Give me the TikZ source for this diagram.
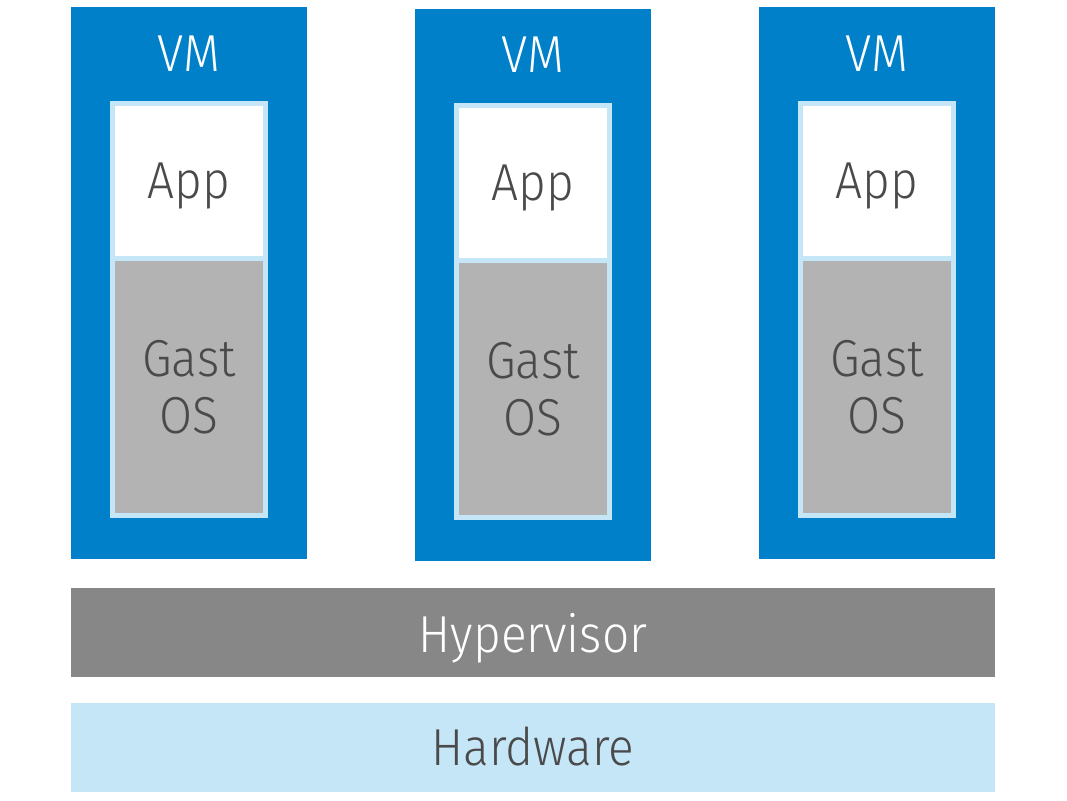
\documentclass[tikz,border=0pt]{standalone}
\usepackage{fontspec}
\setmainfont{Fira Sans}[UprightFont={* Light}, FakeStretch=0.92]
\definecolor{vmblue}{HTML}{0080C8}
\definecolor{lightblue}{HTML}{C5E6F7}
\definecolor{osgray}{HTML}{B2B3B2}
\definecolor{hvgray}{HTML}{868786}
\definecolor{txtgray}{HTML}{4A4A4A}
\tikzset{
  box/.style={anchor=north west, inner sep=0pt, outer sep=0pt, draw=none},
  vmbox/.style={box, fill=vmblue, minimum width=236pt, minimum height=552pt},
  framebox/.style={box, fill=lightblue, minimum width=158pt, minimum height=417pt},
  appbox/.style={box, fill=white, minimum width=148pt, minimum height=150pt},
  osbox/.style={box, fill=osgray, minimum width=148pt, minimum height=252pt},
  barbox/.style={box, minimum width=924pt, minimum height=89pt},
  lbl/.style={font=\fontsize{52}{57}\selectfont, inner sep=0pt, align=center},
}
\begin{document}
\begin{tikzpicture}[x=1pt,y=-1pt]
\useasboundingbox (0,0) rectangle (1067,800);
\foreach \i/\dx/\dy in {1/0/0, 2/344/2, 3/688/0}{
  \node[vmbox] (vm\i) at (71+\dx,7+\dy) {};
  \node[framebox] (fr\i) at (110+\dx,101+\dy) {};
  \node[appbox] (app\i) at (115+\dx,106+\dy) {};
  \node[osbox] (os\i) at (115+\dx,261+\dy) {};
  \node[lbl, text=white, anchor=base] (vml\i) at (189+\dx,71+\dy) {VM};
  \node[lbl, text=txtgray, anchor=base] (appl\i) at (189+\dx,198+\dy) {App};
  \node[lbl, text=txtgray] (osl\i) at (os\i.center) {Gast\\OS};
}
\node[barbox, fill=hvgray] (hv) at (71,588) {};
\node[barbox, fill=lightblue] (hw) at (71,703) {};
\node[lbl, text=white, anchor=base] (hvl) at (533,652) {Hypervisor};
\node[lbl, text=txtgray, anchor=base] (hwl) at (533,765) {Hardware};
\end{tikzpicture}
\end{document}
